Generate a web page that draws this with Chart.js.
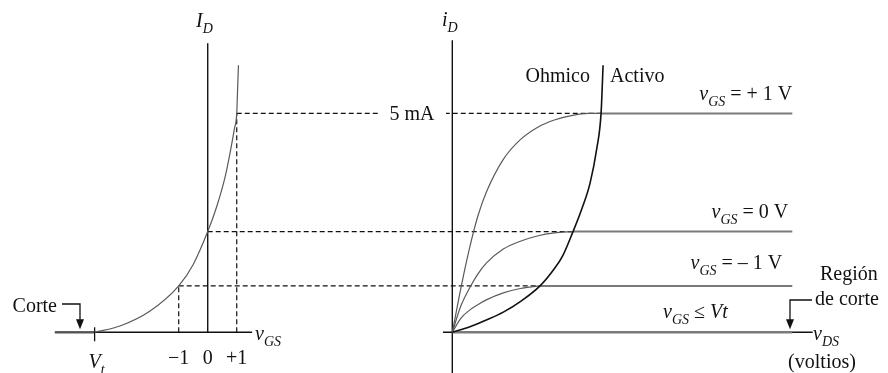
<!DOCTYPE html>
<html>
<head>
<meta charset="utf-8">
<script src="https://cdn.jsdelivr.net/npm/chart.js@4"></script>
<style>
    html, body { margin: 0; padding: 0; background: #fff; }
    canvas { display: block; }
</style>
</head>
<body>
<canvas id="fetChart" width="888" height="373"></canvas>
<script>
/* TRANSFER CURVE  (vGS in V, ID in mA) */

const transferCurve = [
    { x: -3.9, y: 0 }, { x: -3.0, y: 0.15 }, { x: -2.0, y: 0.48 }, { x: -1, y: 1.06 },
    { x: -0.5, y: 1.55 }, { x: 0, y: 2.3 }, { x: 0.3, y: 2.85 }, { x: 0.6, y: 3.55 },
    { x: 0.8, y: 4.2 }, { x: 0.92, y: 4.65 }, { x: 1, y: 5 }, { x: 1.03, y: 5.55 },
    { x: 1.06, y: 6.1 }
]
const vt = -3.9
const gsTicks = [-1, 0, 1]
const gsTickLabels = ['\u22121', '0', '+1']

/* OUTPUT CURVES  (vDS in V, iD in mA) */

const gsSteps = [1, 0, -1]
const stepLevels = [5, 2.3, 1.06]
const kneeVds = [8.75, 7.1, 5.16]
const vdsEnd = 20

const curvePlus1 = [
    { x: 0, y: 0 }, { x: 0.5, y: 1.0 }, { x: 1, y: 1.9 }, { x: 1.5, y: 2.65 },
    { x: 2, y: 3.2 }, { x: 3, y: 3.95 }, { x: 4, y: 4.4 }, { x: 5, y: 4.68 },
    { x: 6, y: 4.85 }, { x: 7, y: 4.95 }, { x: 8, y: 5 }, { x: 8.75, y: 5 }
]
const curveZero = [
    { x: 0, y: 0 }, { x: 0.5, y: 0.6 }, { x: 1, y: 1.0 }, { x: 1.5, y: 1.33 },
    { x: 2, y: 1.58 }, { x: 3, y: 1.9 }, { x: 4, y: 2.08 }, { x: 5, y: 2.2 },
    { x: 6, y: 2.27 }, { x: 7.1, y: 2.3 }
]
const curveMinus1 = [
    { x: 0, y: 0 }, { x: 0.5, y: 0.32 }, { x: 1, y: 0.5 }, { x: 1.5, y: 0.63 },
    { x: 2, y: 0.74 }, { x: 3, y: 0.9 }, { x: 4, y: 1.0 }, { x: 5.16, y: 1.06 }
]
const pinchOff = [
    { x: 0, y: 0 }, { x: 1, y: 0.12 }, { x: 2, y: 0.28 }, { x: 3, y: 0.46 },
    { x: 4, y: 0.7 }, { x: 5.16, y: 1.06 }, { x: 6, y: 1.45 }, { x: 6.5, y: 1.75 },
    { x: 7.1, y: 2.3 }, { x: 7.6, y: 2.8 }, { x: 8.1, y: 3.4 }, { x: 8.5, y: 4.2 },
    { x: 8.75, y: 5 }, { x: 8.87, y: 6.1 }
]

const SERIF = '"Liberation Serif", "DejaVu Serif", serif'
const INK = '#111'
const CURVE = '#5a5a5a'
const FLAT = '#7a7a7a'

/* helpers */

function rich(ctx, parts, x, y, align) {
    const fontOf = (p) => (p.s ? 'italic 14px ' : p.i ? 'italic 20px ' : '20px ') + SERIF
    let w = 0
    parts.forEach((p) => {
        ctx.font = fontOf(p)
        w += ctx.measureText(p.t).width
    })
    let cx = align === 'right' ? x - w : align === 'center' ? x - w / 2 : x
    ctx.textAlign = 'left'
    ctx.textBaseline = 'alphabetic'
    parts.forEach((p) => {
        ctx.font = fontOf(p)
        ctx.fillText(p.t, cx, y + (p.s ? 6 : 0))
        cx += ctx.measureText(p.t).width
    })
}

function line(ctx, x1, y1, x2, y2, width, dash, color) {
    ctx.save()
    ctx.lineWidth = width
    ctx.strokeStyle = color || INK
    ctx.setLineDash(dash || [])
    ctx.beginPath()
    ctx.moveTo(x1, y1)
    ctx.lineTo(x2, y2)
    ctx.stroke()
    ctx.restore()
}

function downArrow(ctx, x0, y0, x1, yTip) {
    ctx.save()
    ctx.strokeStyle = INK
    ctx.fillStyle = INK
    ctx.lineWidth = 1.3
    ctx.beginPath()
    ctx.moveTo(x0, y0)
    ctx.lineTo(x1, y0)
    ctx.lineTo(x1, yTip - 8)
    ctx.stroke()
    ctx.beginPath()
    ctx.moveTo(x1 - 4, yTip - 10)
    ctx.lineTo(x1 + 4, yTip - 10)
    ctx.lineTo(x1, yTip)
    ctx.closePath()
    ctx.fill()
    ctx.restore()
}

const vgsLabel = (rest) => [{ t: 'v', i: true }, { t: 'GS', s: true }].concat(rest)

/* axes, dashed guides and labels */

const figurePlugin = {
    id: 'fetFigure',
    beforeDatasetsDraw(chart) {
        const ctx = chart.ctx
        const { xg, xd, y } = chart.scales
        const y0 = y.getPixelForValue(0)

        // transfer axes
        line(ctx, xg.getPixelForValue(-5.27), y0, xg.getPixelForValue(1.53), y0, 1.4)
        line(ctx, xg.getPixelForValue(0), y0, xg.getPixelForValue(0), y.getPixelForValue(6.6), 1.4)
        line(ctx, xg.getPixelForValue(-5.27), y0, xg.getPixelForValue(vt), y0, 2.2, null, '#555')
        line(ctx, xg.getPixelForValue(vt), y0 - 5, xg.getPixelForValue(vt), y0 + 9, 1.3)

        // output axes
        line(ctx, xd.getPixelForValue(-0.55), y0, xd.getPixelForValue(21.2), y0, 1.4)
        line(ctx, xd.getPixelForValue(0), y.getPixelForValue(-0.93), xd.getPixelForValue(0), y.getPixelForValue(6.67), 1.4)

        // guides from the transfer curve to the pinch-off knees
        gsSteps.forEach((v, i) => {
            const px = xg.getPixelForValue(v)
            const py = y.getPixelForValue(stepLevels[i])
            if (v !== 0) line(ctx, px, y0, px, py, 1.2, [5, 3])
            line(ctx, px, py, xd.getPixelForValue(kneeVds[i]), py, 1.2, [5, 3])
        })
    },
    afterDatasetsDraw(chart) {
        const ctx = chart.ctx
        const { xg, xd, y } = chart.scales
        const y0 = y.getPixelForValue(0)
        ctx.save()

        // 5 mA label sits on the top guide
        const y5 = y.getPixelForValue(stepLevels[0])
        ctx.fillStyle = '#fff'
        ctx.fillRect(380, y5 - 10, 66, 20)
        ctx.fillStyle = INK
        rich(ctx, [{ t: '5 mA' }], 412, y5 + 7, 'center')

        // transfer panel text
        rich(ctx, [{ t: 'I', i: true }, { t: 'D', s: true }], 196, 27, 'left')
        gsTicks.forEach((v, i) => rich(ctx, [{ t: gsTickLabels[i] }], xg.getPixelForValue(v), y0 + 32, 'center'))
        rich(ctx, [{ t: 'V', i: true }, { t: 't', s: true }], xg.getPixelForValue(vt) + 2, y0 + 36, 'center')
        rich(ctx, vgsLabel([]), 255, y0 + 8, 'left')
        rich(ctx, [{ t: 'Corte' }], 57, 312, 'right')
        downArrow(ctx, 62, 304, 80, y0 - 3)

        // output panel text
        rich(ctx, [{ t: 'i', i: true }, { t: 'D', s: true }], 442, 26, 'left')
        rich(ctx, [{ t: 'Ohmico' }], 590, 82, 'right')
        rich(ctx, [{ t: 'Activo' }], 610, 82, 'left')
        const xr = xd.getPixelForValue(vdsEnd)
        rich(ctx, vgsLabel([{ t: ' = + 1 V' }]), xr, y5 - 13, 'right')
        rich(ctx, vgsLabel([{ t: ' = 0 V' }]), xr - 4, y.getPixelForValue(stepLevels[1]) - 14, 'right')
        rich(ctx, vgsLabel([{ t: ' = \u2013 1 V' }]), xr - 10, y.getPixelForValue(stepLevels[2]) - 17, 'right')
        rich(ctx, vgsLabel([{ t: ' \u2264 ' }, { t: 'V', i: true }, { t: 't', i: true }]), 663, y0 - 14, 'left')
        rich(ctx, [{ t: 'Regi\u00f3n' }], 820, 280, 'left')
        rich(ctx, [{ t: 'de corte' }], 815, 305, 'left')
        downArrow(ctx, 812, 300, 790, y0 - 3)
        rich(ctx, [{ t: 'v', i: true }, { t: 'DS', s: true }], 813, y0 + 8, 'left')
        rich(ctx, [{ t: '(voltios)' }], 822, 368, 'center')
        ctx.restore()
    }
}

/* datasets */

const curve = (data, axis, color, width) => ({
    data,
    xAxisID: axis,
    yAxisID: 'y',
    borderColor: color,
    borderWidth: width,
    showLine: true,
    pointRadius: 0,
    fill: false,
    cubicInterpolationMode: 'monotone'
})

const flats = stepLevels.map((lv, i) => curve([{ x: kneeVds[i], y: lv }, { x: vdsEnd, y: lv }], 'xd', FLAT, 2))
flats.push(curve([{ x: 0, y: 0 }, { x: vdsEnd, y: 0 }], 'xd', FLAT, 2.6))

new Chart(document.getElementById('fetChart'), {
    type: 'scatter',
    data: {
        datasets: [
            curve(transferCurve, 'xg', CURVE, 1.2),
            curve(pinchOff, 'xd', INK, 1.6),
            curve(curvePlus1, 'xd', CURVE, 1.2),
            curve(curveZero, 'xd', CURVE, 1.2),
            curve(curveMinus1, 'xd', CURVE, 1.2),
            ...flats
        ]
    },
    options: {
        responsive: false,
        animation: false,
        layout: { padding: 0 },
        plugins: { legend: { display: false }, tooltip: { enabled: false } },
        scales: {
            xg: { type: 'linear', position: 'bottom', display: false, min: -7.162, max: 23.455 },
            xd: { type: 'linear', position: 'bottom', display: false, min: -26.606, max: 25.629 },
            y: { type: 'linear', display: false, min: -0.93, max: 7.59 }
        }
    },
    plugins: [figurePlugin]
})
</script>
</body>
</html>
